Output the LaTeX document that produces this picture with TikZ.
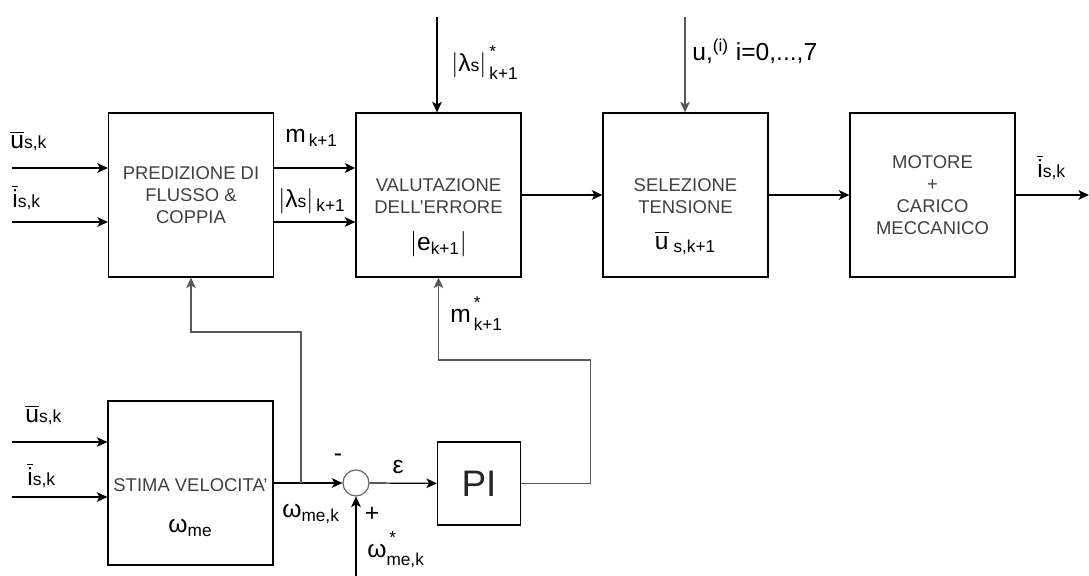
\documentclass[tikz,border=0pt]{standalone}
\usepackage{amsmath}
\usepackage{fontspec}
\setmainfont{Liberation Sans}
\usetikzlibrary{arrows.meta}

\newcommand{\sm}[1]{{\fontsize{10}{12}\selectfont #1}}
\newcommand{\str}{\text{\raisebox{3pt}{*}}}

\tikzset{
  blk/.style={draw, line width=0.7pt, minimum width=3.3cm, minimum height=3.28cm, inner sep=0pt,
    align=center, text=black!75, font=\fontsize{10.5}{12.5}\selectfont},
  btxt/.style={align=center, text=black!75, font=\fontsize{10.5}{12.5}\selectfont},
  lbl/.style={font=\fontsize{14}{16}\selectfont, inner sep=0pt},
  sig/.style={line width=0.7pt, -{Stealth[length=6pt,width=5.5pt,inset=1.5pt]}},
  fb/.style={sig, draw=black!65},
}

\begin{document}
\begin{tikzpicture}

\useasboundingbox (0,0) rectangle (21.78,11.52);

% blocks of the upper row
\node[blk] (pred) at (3.82,7.62) {PREDIZIONE DI\\FLUSSO \&\\COPPIA};
\node[blk] (val) at (8.77,7.62) {};
\node[blk] (sel) at (13.71,7.62) {};
\node[blk] (mot) at (18.65,7.62) {MOTORE\\+\\CARICO\\MECCANICO};

\node[btxt] (valt) at (8.77,7.6) {VALUTAZIONE\\DELL'ERRORE};
\node[lbl] (vale) at (8.77,6.64) {$|\text{e}_{\text{k+1}}|$};
\node[btxt] (selt) at (13.71,7.6) {SELEZIONE\\TENSIONE};
\node[lbl] (selu) at (13.71,6.66) {$\overline{\text{u}}_{\;\text{s,k+1}}$};

% speed estimation, summing point and PI
\node[blk] (stima) at (3.81,1.86) {};
\node[btxt] (stimat) at (3.81,1.82) {STIMA VELOCITA'};
\node[lbl] (stimaw) at (3.81,0.96) {$\text{ω}_{\text{me}}$};
\node[draw=black!60, circle, line width=0.7pt, minimum size=0.52cm, inner sep=0pt] (sum) at (7.12,1.86) {};
\node[blk, minimum width=1.66cm, minimum height=1.66cm, text=black!85,
  font=\fontsize{21}{24}\selectfont] (pi) at (9.58,1.85) {PI};

% free ends
\coordinate (u1) at (0.24,8.16);
\coordinate (i1) at (0.24,7.08);
\coordinate (u2) at (0.24,2.68);
\coordinate (i2) at (0.24,1.58);
\coordinate (lref) at (8.74,11.18);
\coordinate (uref) at (13.7,11.18);
\coordinate (iout) at (21.78,7.62);
\coordinate (br) at (6.02,1.86);
\coordinate (wref) at (7.12,0);

% connectors
\draw[sig] (u1) -- (u1 -| pred.west);
\draw[sig] (i1) -- (i1 -| pred.west);
\draw[sig] (u1 -| pred.east) -- (u1 -| val.west);
\draw[sig] (i1 -| pred.east) -- (i1 -| val.west);
\draw[sig] (lref) -- (lref |- val.north);
\draw[sig] (val) -- (sel);
\draw[fb] (uref) -- (uref |- sel.north);
\draw[sig] (sel) -- (mot);
\draw[sig] (mot) -- (iout);

\draw[sig] (u2) -- (u2 -| stima.west);
\draw[sig] (i2) -- (i2 -| stima.west);
\draw[sig] (stima) -- (sum);
\draw[fb] (br) -- ++(0,3.02) -| (pred.south);
\draw[sig] (sum) -- (pi);
\draw[fb] (pi.east) -- ++(1.39,0) -- ++(0,2.47) -| (val.south);
\draw[sig] (wref) -- (sum.south);

% labels
\node[lbl, anchor=base west] (lu1) at (0.2,8.54) {$\overline{\text{u}}\text{\sm{s,k}}$};
\node[lbl, anchor=base west] (li1) at (0.24,7.36) {$\overline{\text{i}}\text{\sm{s,k}}$};
\node[lbl, anchor=base west] (lm) at (5.7,8.66) {$\text{m}_{\,\text{k+1}}$};
\node[lbl, anchor=base west] (ll) at (5.56,7.36) {$|\text{λ\sm{s}}|_{\,\text{k+1}}$};
\node[lbl, anchor=base west] (llr) at (9.02,10.08) {$|\text{λ\sm{s}}|^{\,\str}_{\,\text{k+1}}$};
\node[lbl, anchor=base west] (lui) at (13.84,10.3) {$\text{u,}^{\text{(i)}}$ i=0,...,7};
\node[lbl, anchor=base west] (lio) at (20.74,7.96) {$\overline{\text{i}}\text{\sm{s,k}}$};
\node[lbl, anchor=base west] (lmr) at (9.0,5.06) {$\text{m}^{\,\str}_{\,\text{k+1}}$};
\node[lbl, anchor=base west] (lu2) at (0.5,3.06) {$\overline{\text{u}}\text{\sm{s,k}}$};
\node[lbl, anchor=base west] (li2) at (0.54,1.8) {$\overline{\text{i}}\text{\sm{s,k}}$};
\node[lbl, anchor=base west] (lw) at (5.64,1.16) {$\text{ω}_{\text{me,k}}$};
\node[lbl, anchor=base west] (lwr) at (7.34,0.36) {$\text{ω}^{\,\str}_{\text{me,k}}$};
\node[lbl] (lminus) at (6.76,2.36) {-};
\node[lbl] (lplus) at (7.44,1.24) {+};
\node[lbl] (leps) at (7.96,2.18) {ε};

\end{tikzpicture}
\end{document}
